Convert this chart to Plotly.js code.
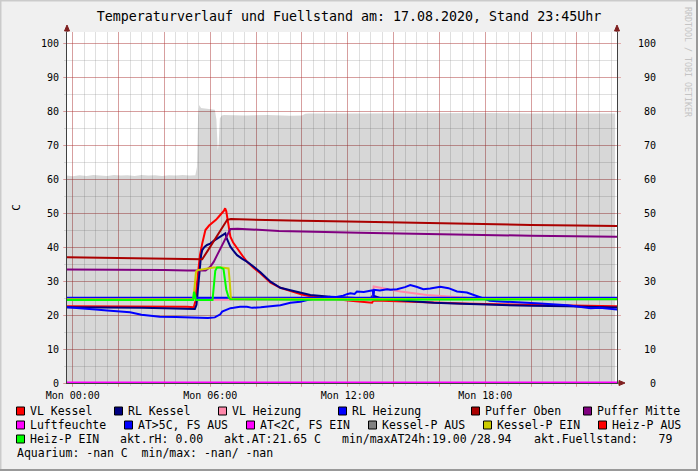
<!DOCTYPE html>
<html><head><meta charset="utf-8">
<script src="https://cdn.plot.ly/plotly-3.0.1.min.js"></script>
<style>html,body{margin:0;padding:0;background:#f0f0f0;overflow:hidden;}</style>
</head><body><div id="chart" style="width:698px;height:471px;"></div>
<script>
// ---- data: time in hours relative to Mon 17.08.2020 00:00 ----
const fuellT = [-0.25,0.0,0.3,0.6,0.9,1.2,1.5,1.8,2.1,2.4,2.7,3.0,3.3,3.6,3.9,4.2,4.5,4.8,5.1,5.35,5.42,5.47,5.52,5.6,5.8,6.0,6.2,6.27,6.33,6.37,6.42,6.5,6.6,7.5,8.5,9.5,10.0,10.15,10.3,12,14,16,18,20,22,23.67];
const fuellV = [61.0,60.8,61.1,60.9,61.2,61.0,60.9,61.2,61.0,61.1,60.9,61.2,61.0,61.1,60.9,61.1,61.0,61.2,61.0,61.1,63.5,78.5,81.8,80.9,80.7,80.6,80.4,77.5,68.4,70.5,77.8,78.7,78.8,78.7,78.8,78.6,78.7,79.2,79.3,79.3,79.4,79.3,79.4,79.3,79.4,79.3];

const vlKesselT = [-0.25,1,2,3,4,5,5.28,5.35,5.45,5.55,5.65,5.79,5.95,6.08,6.25,6.37,6.5,6.6,6.65,6.7,6.76,6.88,7.0,7.17,7.4,7.6,7.9,8.19,8.63,9.06,9.5,10.0,10.37,11.24,12.12,13.06,13.12,13.5,15,17,19,21,23.75];
const vlKesselV = [22.6,22.6,22.5,22.5,22.4,22.4,22.3,24.0,31.0,37.5,41.0,45.0,46.3,47.0,48.0,48.9,49.8,50.7,51.4,50.5,48.0,43.0,41.3,39.6,37.5,35.7,33.8,32.3,29.5,28.0,27.0,26.0,25.5,24.8,24.2,23.6,24.3,24.2,23.8,23.4,23.1,22.8,22.6];

const rlKesselT = [-0.25,1,2,3,4,5,5.33,5.4,5.47,5.53,5.6,5.65,5.75,5.86,6.0,6.15,6.3,6.45,6.6,6.66,6.72,6.8,6.88,7.0,7.17,7.4,7.6,7.9,8.19,8.63,9.06,9.5,10.0,10.37,11.24,12.12,13.0,13.1,13.15,13.4,13.72,14.5,15.75,17,18.66,20,21.6,23.75];
const rlKesselV = [22.3,22.3,22.2,22.1,22.0,21.9,21.8,23.0,29.0,34.2,37.5,39.1,40.0,40.6,41.0,41.8,42.5,43.2,43.8,44.0,42.5,41.0,40.1,39.0,37.6,36.5,35.7,34.2,32.6,29.8,28.0,27.3,26.4,25.9,25.4,25.1,24.8,25.9,25.6,25.0,24.6,24.2,23.6,23.3,22.9,22.7,22.6,22.2];

const vlHeizungT = [-0.25,5,10,13.08,13.13,13.57,14.3,15.46,16.3,17.2,18.5,20,22,23.75];
const vlHeizungV = [24.5,24.5,24.5,24.5,28.4,27.8,26.9,25.9,25.5,25.1,24.8,24.7,24.6,24.6];

const rlHeizungT = [-0.25,0.5,1.0,1.5,2.1,2.5,3.0,3.4,3.8,4.5,5.3,5.9,6.2,6.3,6.44,6.52,6.7,6.88,7.02,7.3,7.6,7.83,8.2,8.63,9.06,9.5,9.93,10.37,10.8,11.24,11.5,11.8,12.0,12.12,12.3,12.4,12.7,13.0,13.1,13.12,13.15,13.4,13.72,13.86,14.15,14.5,14.73,15.0,15.3,15.6,16.04,16.4,16.77,17.2,17.5,17.8,18.2,18.66,19.5,20.4,21.6,22.6,23.0,23.75];
const rlHeizungV = [22.3,22.0,21.6,21.3,21.0,20.8,20.1,19.9,19.5,19.4,19.2,19.1,19.3,19.7,20.2,21.0,21.6,22.0,22.1,22.4,22.4,22.1,22.3,22.6,22.9,23.6,23.9,24.6,25.0,25.4,25.3,25.7,26.2,26.4,26.2,26.9,26.8,27.1,27.3,24.5,27.4,27.2,27.6,27.4,27.6,28.2,28.8,28.3,27.6,27.8,28.3,27.9,26.9,26.6,25.9,25.0,24.2,24.0,23.8,23.4,22.9,22.0,22.1,21.6];

const pufferObenT = [-0.25,1,2,3,4,5,5.65,5.9,6.1,6.3,6.5,6.74,6.9,8,10,12,14,16,18,20,22,23.75];
const pufferObenV = [37.0,36.9,36.8,36.7,36.6,36.5,36.4,39.0,41.2,43.5,45.6,48.0,48.2,48.0,47.7,47.5,47.2,47.0,46.8,46.5,46.3,46.2];

const pufferMitteT = [-0.25,1,2,3,4,5,5.8,6.0,6.15,6.3,6.52,6.7,6.88,7.2,9,12.5,16,20,23.75];
const pufferMitteV = [33.4,33.4,33.3,33.3,33.2,33.1,33.1,34.2,35.6,37.6,40.6,43.2,45.3,45.4,44.7,44.2,43.7,43.3,43.0];

const luftT = [-0.25,23.75];
const luftV = [0,0];

const atAusT = [-0.25,6,12,18,23.75];
const atAusV = [25.1,25.1,25.1,25.1,25.1];

const kesselEinT = [-0.25,5.0,5.27,5.3,5.34,5.38,5.45,5.8,6.15,6.5,6.8,6.85,6.9,10,15,20,23.75];
const kesselEinV = [24.6,24.6,24.6,27.0,31.5,32.8,33.2,33.5,34.0,34.0,33.7,30.0,24.8,24.7,24.7,24.7,24.7];

const heizEinT = [-0.25,5.0,5.25,5.29,5.33,5.37,6.1,6.15,6.22,6.3,6.45,6.58,6.63,6.7,6.8,6.88,10,15,20,23.75];
const heizEinV = [24.4,24.4,24.4,26.8,26.0,24.4,24.4,28.0,33.0,34.0,34.0,33.5,31.0,27.5,25.2,24.6,24.5,24.5,24.5,24.6];

const xTickHours = [0,2,4,6,8,10,12,14,16,18,20,22];
const xTickLabels = ['Mon 00:00','','','Mon 06:00','','','Mon 12:00','','','Mon 18:00','',''];
const yTickVals = [0,10,20,30,40,50,60,70,80,90,100];
const yTickLabels = ['0','10','20','30','40','50','60','70','80','90','100'];

const titleText = 'Temperaturverlauf und Fuellstand am: 17.08.2020, Stand 23:45Uhr';
const legendRows = [
  [['VL Kessel','#ff0000'],['RL Kessel','#000080'],['VL Heizung','#ff88aa'],['RL Heizung','#0000ff'],['Puffer Oben','#aa0000'],['Puffer Mitte','#800080']],
  [['Luftfeuchte','#ff00ff'],['AT>5C, FS AUS','#0000ff'],['AT<2C, FS EIN','#ff00ff'],['Kessel-P AUS','#808080'],['Kessel-P EIN','#cccc00'],['Heiz-P AUS','#ff0000']],
  [['Heiz-P EIN','#00ff00']]
];
const infoTexts = ['akt.rH: 0.00','akt.AT:21.65 C','min/maxAT24h:19.00','/28.94','akt.Fuellstand:\u00a0\u00a0\u00a079'];
const aquariumText = 'Aquarium: -nan C\u00a0\u00a0min/max: -nan/ -nan';

// ---- helpers ----
function hd(h){ const d=new Date(Date.UTC(2020,7,17)+Math.round(h*3600000)); return d.toISOString().replace('T',' ').slice(0,19); }
const PL=67, PR=617, PT=32, PB=383;
function px(x){ return (x-PL)/(PR-PL); }
function py(y){ return (PB-y)/(PB-PT); }
function pad(s){ return '\u00a0'.repeat(3-s.length)+s; }

function line(T,V,color,width,extra){
  return Object.assign({type:'scatter',mode:'lines',x:T.map(hd),y:V,line:{color:color,width:width},hoverinfo:'skip'},extra||{});
}

const traces = [
  {type:'scatter',mode:'lines',x:fuellT.map(hd),y:fuellV,fill:'tozeroy',fillcolor:'rgba(0,0,0,0.157)',line:{width:0,color:'rgba(0,0,0,0)'},hoverinfo:'skip'},
  line(vlKesselT,vlKesselV,'#ff0000',2),
  line(rlKesselT,rlKesselV,'#000080',2),
  line(vlHeizungT,vlHeizungV,'#ff88aa',2),
  line(rlHeizungT,rlHeizungV,'#0000ff',2),
  line(pufferObenT,pufferObenV,'#aa0000',2),
  line(pufferMitteT,pufferMitteV,'#800080',2),
  line(atAusT,atAusV,'#0000ff',2),
  line(kesselEinT,kesselEinV,'#cccc00',2),
  line(heizEinT,heizEinV,'#00ff00',2),
  line(luftT,luftV,'#ff00ff',3,{yaxis:'y2'})
];

const MGRID='rgba(200,30,30,0.33)', GRID='rgba(140,140,140,0.28)', AXIS='#404040', ARROW='#7f1f1f';
const FONT='DejaVu Sans Mono';
const yr=[0,(PB-PT)/3.4];

const shapes=[], annotations=[];
// arrows
function tri(x1,y1,x2,y2,x3,y3){ shapes.push({type:'path',xref:'paper',yref:'paper',path:`M${px(x1)},${py(y1)} L${px(x2)},${py(y2)} L${px(x3)},${py(y3)} Z`,fillcolor:ARROW,line:{color:ARROW,width:1},layer:'above'}); }
function seg(x1,y1,x2,y2,c,w){ shapes.push({type:'line',xref:'paper',yref:'paper',x0:px(x1),y0:py(y1),x1:px(x2),y1:py(y2),line:{color:c,width:w},layer:'above'}); }
seg(67,27,67,32,AXIS,1); seg(617,27,617,32,AXIS,1); seg(617,383,621,383,AXIS,1);
tri(67,25,64.5,31,69.5,31); tri(617,25,614.5,31,619.5,31); tri(625,383,619,380.5,619,385.5);
// frame
seg(0.5,0,0.5,471,'#cbcbcb',2); seg(0,0.5,698,0.5,'#cbcbcb',2);
seg(697,0,697,471,'#999999',2); seg(0,470,698,470,'#999999',2);

// legend
const rowY=[411,425,439,453];
const rowX=[[30,128,232,352,485,597],[30,138,260,382,497,612],[30]];
legendRows.forEach((row,r)=>row.forEach((it,i)=>{
  const tx=rowX[r][i], ty=rowY[r];
  shapes.push({type:'rect',xref:'paper',yref:'paper',x0:px(tx-13.5),x1:px(tx-5.5),y0:py(ty+4),y1:py(ty-4),fillcolor:it[1],line:{color:'#000',width:1},layer:'above'});
  annotations.push({xref:'paper',yref:'paper',x:px(tx-2),y:py(ty),xanchor:'left',yanchor:'middle',text:it[0],showarrow:false,font:{family:FONT,size:11.5,color:'#000'}});
}));
const infoX=[120,224,342,470,534];
infoTexts.forEach((t,i)=>annotations.push({xref:'paper',yref:'paper',x:px(infoX[i]-2),y:py(439),xanchor:'left',yanchor:'middle',text:t,showarrow:false,font:{family:FONT,size:11.5,color:'#000'}}));
annotations.push({xref:'paper',yref:'paper',x:px(16.5-2),y:py(453),xanchor:'left',yanchor:'middle',text:aquariumText,showarrow:false,font:{family:FONT,size:11.5,color:'#000'}});
// watermark
annotations.push({xref:'paper',yref:'paper',x:px(688),y:py(62),xanchor:'center',yanchor:'middle',text:'RRDTOOL / TOBI OETIKER',textangle:90,showarrow:false,font:{family:FONT,size:8.3,color:'#c4c4c4'}});

const layout={
  width:698,height:471,autosize:false,
  paper_bgcolor:'#f0f0f0',plot_bgcolor:'#ffffff',
  margin:{l:PL,r:698-PR,t:PT,b:471-PB,autoexpand:false},
  showlegend:false,
  font:{family:FONT,size:10,color:'#000'},
  title:{text:titleText,x:0.5,xref:'container',xanchor:'center',y:1-16/471,yref:'container',yanchor:'middle',font:{family:FONT,size:13.3,color:'#000'}},
  xaxis:{type:'date',range:[hd(-0.25),hd(23.75)],tickmode:'array',tickvals:xTickHours.map(hd),ticktext:xTickLabels,
    showgrid:true,gridcolor:MGRID,gridwidth:1,ticks:'outside',ticklen:3,tickcolor:MGRID,
    minor:{tickmode:'linear',tick0:hd(0),dtick:1800000,showgrid:true,gridcolor:GRID,gridwidth:1,ticks:'outside',ticklen:2,tickcolor:GRID},
    showline:true,linecolor:AXIS,linewidth:1,zeroline:false,tickfont:{family:FONT,size:10,color:'#000'},fixedrange:true},
  yaxis:{range:yr,tickmode:'array',tickvals:yTickVals,ticktext:yTickLabels,showgrid:true,gridcolor:MGRID,gridwidth:1,
    ticks:'outside',ticklen:3,tickcolor:MGRID,ticklabelstandoff:2,
    minor:{tickmode:'linear',tick0:0,dtick:5,showgrid:true,gridcolor:GRID,gridwidth:1,ticks:'outside',ticklen:2,tickcolor:GRID},
    showline:true,linecolor:AXIS,linewidth:1,zeroline:false,tickfont:{family:FONT,size:10,color:'#000'},
    title:{text:'C',standoff:18,font:{family:FONT,size:11,color:'#000'}},fixedrange:true},
  yaxis2:{overlaying:'y',side:'right',range:yr,tickmode:'array',tickvals:yTickVals,ticktext:yTickLabels.map(pad),showgrid:false,
    ticks:'outside',ticklen:3,tickcolor:MGRID,ticklabelstandoff:15,
    showline:true,linecolor:AXIS,linewidth:1,zeroline:false,tickfont:{family:FONT,size:10,color:'#000'},fixedrange:true},
  shapes:shapes,annotations:annotations
};
Plotly.newPlot('chart',traces,layout,{displayModeBar:false,staticPlot:true});
</script>
</body></html>
